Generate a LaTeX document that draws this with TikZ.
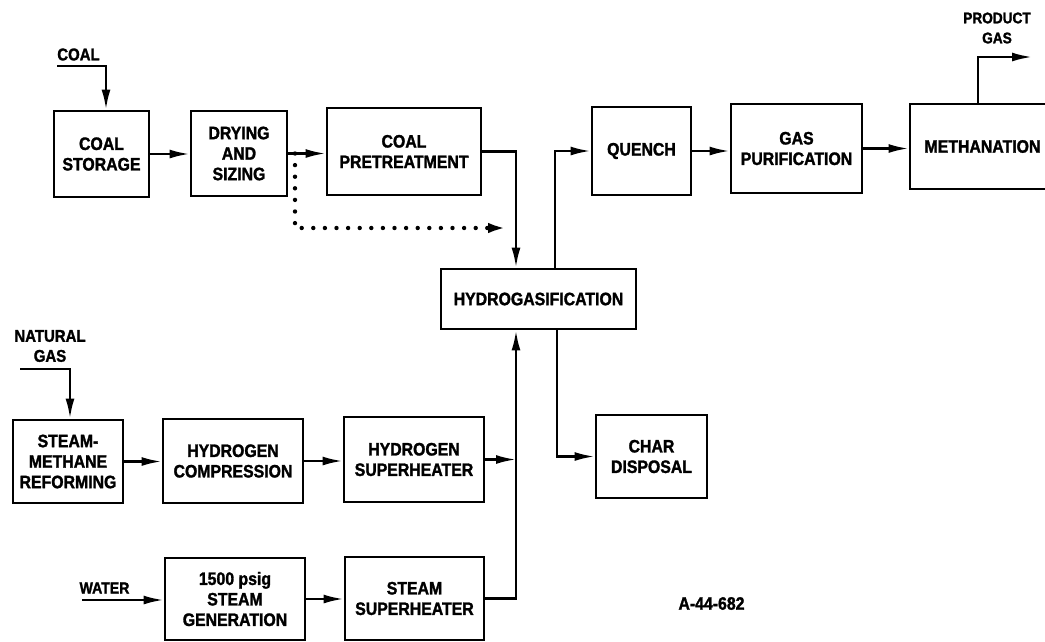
\documentclass[tikz,border=0pt]{standalone}
\usepackage{fontspec}
\setmainfont{Liberation Sans}[FakeStretch=0.88,BoldFeatures={FakeBold=1.6}]
\usetikzlibrary{arrows.meta}
\newcommand\bxfont{\fontsize{18}{20.5}\selectfont\bfseries}
\begin{document}
\begin{tikzpicture}[x=1pt,y=-1pt,
  box/.style={draw,line width=2.9pt,align=center,inner sep=0pt,font=\bxfont},
  lbl/.style={align=center,inner sep=0pt},
  arr/.style={line width=2.4pt,-{Latex[length=20pt,width=9pt]}},
  dots/.style={line width=4.4pt,line cap=round,dash pattern=on 0pt off 11.6pt,-{Latex[length=22pt,width=10pt]}}]
\useasboundingbox (0,0) rectangle (1045,641);
\clip (0,0) rectangle (1045,641);
% boxes
\node[box,minimum width=95pt,minimum height=86pt] (storage) at (101.5,154) {COAL\\STORAGE};
\node[box,minimum width=96pt,minimum height=85pt] (drying) at (239,153.5) {DRYING\\AND\\SIZING};
\node[box,minimum width=154pt,minimum height=87pt] (pretreat) at (404,151.5) {COAL\\PRETREATMENT};
\node[box,minimum width=99pt,minimum height=88pt] (quench) at (641.5,151) {QUENCH};
\node[box,minimum width=131pt,minimum height=89pt] (gaspur) at (796.5,148.5) {GAS\\PURIFICATION};
\node[box,minimum width=145pt,minimum height=85pt] (meth) at (982.5,146.5) {METHANATION};
\node[box,minimum width=195pt,minimum height=60pt] (hydro) at (538.5,299) {HYDROGASIFICATION};
\node[box,minimum width=111pt,minimum height=83pt] (char) at (651.5,456.5) {CHAR\\DISPOSAL};
\node[box,minimum width=110pt,minimum height=83pt] (smr) at (68,461.5) {STEAM-\\METHANE\\REFORMING};
\node[box,minimum width=140pt,minimum height=84pt] (h2comp) at (233,461) {HYDROGEN\\COMPRESSION};
\node[box,minimum width=140pt,minimum height=85pt] (h2sh) at (414,459.5) {HYDROGEN\\SUPERHEATER};
\node[box,minimum width=140pt,minimum height=82pt] (steamgen) at (235,599) {1500 psig\\STEAM\\GENERATION};
\node[box,minimum width=139pt,minimum height=83pt] (steamsh) at (414.5,598.5) {STEAM\\SUPERHEATER};
% labels
\node[lbl,font=\fontsize{17}{20}\selectfont\bfseries] (coallbl) at (78.5,54.5) {COAL};
\node[lbl,font=\fontsize{17}{20}\selectfont\bfseries] (nglbl) at (50,346) {NATURAL\\GAS};
\node[lbl,font=\fontsize{15.5}{20}\selectfont\bfseries] (prodlbl) at (997,28) {PRODUCT\\GAS};
\node[lbl,font=\fontsize{16}{20}\selectfont\bfseries] (waterlbl) at (104.5,588) {WATER};
\node[lbl,font=\fontsize{18}{20}\selectfont\bfseries] (reflbl) at (711.5,603.5) {A-44-682};
% coordinates
\coordinate (coalin) at (57,66);
\coordinate (coalbend) at (106,66);
\coordinate (ngin) at (20,369);
\coordinate (ngbend) at (70,369);
\coordinate (waterin) at (82,600);
\coordinate (prodout) at (1032,57);
\coordinate (trunk) at ([xshift=-22.5pt]hydro.south);
\coordinate (trunktop) at ([xshift=-22.5pt]hydro.north);
\coordinate (dotstart) at (295,153.5);
\coordinate (dotend) at (510,228);
% connectors
\draw[arr] (coalin) -- (coalbend) -- (coalbend |- storage.north);
\draw[arr] (storage.east) -- (storage.east -| drying.west);
\draw[arr] (drying.east) -- (drying.east -| pretreat.west);
\draw[arr] (pretreat.east) -| (trunktop);
\draw[dots] (dotstart) |- (dotend);
\draw[arr] ([xshift=16.5pt]hydro.north) |- (quench.west);
\draw[arr] (quench.east) -- (quench.east -| gaspur.west);
\draw[arr] (gaspur.east) -- (gaspur.east -| meth.west);
\draw[arr] ([xshift=-4.5pt]meth.north) |- (prodout);
\draw[arr] ([xshift=18.5pt]hydro.south) |- (char.west);
\draw[arr] (ngin) -- (ngbend) -- (ngbend |- smr.north);
\draw[arr] (smr.east) -- (smr.east -| h2comp.west);
\draw[arr] (h2comp.east) -- (h2comp.east -| h2sh.west);
\draw[arr] (h2sh.east) -- (h2sh.east -| trunk);
\draw[arr] (waterin) -- (waterin -| steamgen.west);
\draw[arr] (steamgen.east) -- (steamgen.east -| steamsh.west);
\draw[arr] (steamsh.east) -| (trunk);
\end{tikzpicture}
\end{document}
